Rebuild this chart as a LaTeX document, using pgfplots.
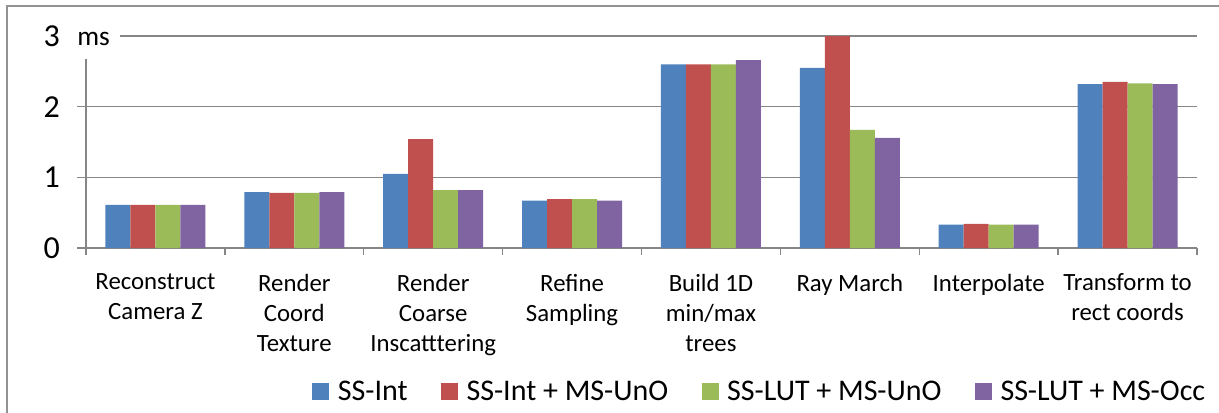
\documentclass[border=0pt]{standalone}
\usepackage{pgfplots}
\pgfplotsset{compat=1.18}
\usepackage{fontspec}
\setmainfont{Carlito}
\definecolor{cblue}{HTML}{4F81BD}
\definecolor{cred}{HTML}{C0504D}
\definecolor{cgreen}{HTML}{9BBB59}
\definecolor{cpurple}{HTML}{8064A2}
\definecolor{cgrid}{HTML}{868686}
\pgfplotsset{sqleg/.style={legend image code/.code={\fill[##1] (0pt,-6pt) rectangle (12.75pt,6.5pt);}}}
\begin{document}
\begin{tikzpicture}
\useasboundingbox (0,0) rectangle (914.25pt,309pt);
\draw[cgrid!90, line width=1.1pt] (5.25pt,-2pt) -- (5.25pt,304.5pt) -- (920pt,304.5pt);
\begin{axis}[
  at={(64.5pt,123pt)}, anchor=south west,
  scale only axis, width=833.25pt, height=159pt,
  ybar=0pt, bar width=18.75pt,
  xmin=-0.5, xmax=7.5, ymin=0, ymax=3,
  axis line style={draw=none},
  clip=false,
  xtick={0,...,7},
  xticklabels={Reconstruct\\Camera Z, Render\\Coord\\Texture, Render\\Coarse\\Inscatttering, Refine\\Sampling, Build 1D\\min/max\\trees, Ray March, Interpolate, Transform to\\rect coords},
  xtick style={draw=none}, ytick style={draw=none},
  ytick={0,1,2,3},
  /pgf/number format/assume math mode=true,
  yticklabel style={font=\fontsize{24}{26}\selectfont, inner sep=0pt, anchor=east, xshift=-19.5pt},
  xticklabel style={align=center, font=\fontsize{18.6}{22.5}\selectfont, inner sep=0pt, anchor=north, yshift=-15pt},
  legend columns=4,
  legend style={at={(axis description cs:0.2034,-0.679)}, anchor=west, draw=none, fill=none,
    font=\fontsize{22.5}{24}\selectfont, inner sep=0pt,
    /tikz/every odd column/.append style={column sep=4.5pt},
    /tikz/every even column/.append style={column sep=23pt}},
]
\draw[cgrid, line width=1pt] (rel axis cs:0,0) -- (rel axis cs:1,0);
\draw[cgrid, line width=1pt] (rel axis cs:0,0) -- (rel axis cs:0,0.8915);
\draw[cgrid, line width=1pt] ([xshift=-6.75pt]axis cs:-0.5,1) -- (axis cs:7.5,1);
\draw[cgrid, line width=1pt] ([xshift=-6.75pt]axis cs:-0.5,2) -- (axis cs:7.5,2);
\draw[cgrid, line width=1pt] ([xshift=-6.75pt]axis cs:-0.5,0) -- (axis cs:-0.5,0);
\draw[cgrid, line width=1pt] (rel axis cs:0.0306,1) -- (rel axis cs:1,1);
\pgfplotsinvokeforeach{-0.5,0.5,...,7.5}{\draw[cgrid, line width=1pt] (axis cs:#1,0) -- ([yshift=-5.25pt]axis cs:#1,0);}
\node[anchor=base west, font=\fontsize{20.5}{22}\selectfont, inner sep=0pt] at ([yshift=-6.75pt]rel axis cs:-0.0081,1) {ms};
\addplot[fill=cblue, draw=none, sqleg] coordinates {(0,0.61) (1,0.79) (2,1.05) (3,0.67) (4,2.60) (5,2.55) (6,0.33) (7,2.32)};
\addplot[fill=cred, draw=none, sqleg] coordinates {(0,0.61) (1,0.78) (2,1.54) (3,0.69) (4,2.60) (5,3.00) (6,0.34) (7,2.35)};
\addplot[fill=cgreen, draw=none, sqleg] coordinates {(0,0.61) (1,0.78) (2,0.82) (3,0.69) (4,2.60) (5,1.67) (6,0.33) (7,2.33)};
\addplot[fill=cpurple, draw=none, sqleg] coordinates {(0,0.61) (1,0.79) (2,0.82) (3,0.67) (4,2.66) (5,1.56) (6,0.33) (7,2.32)};
\legend{SS-Int, SS-Int + MS-UnO, SS-LUT + MS-UnO, SS-LUT + MS-Occ}
\end{axis}
\end{tikzpicture}
\end{document}
